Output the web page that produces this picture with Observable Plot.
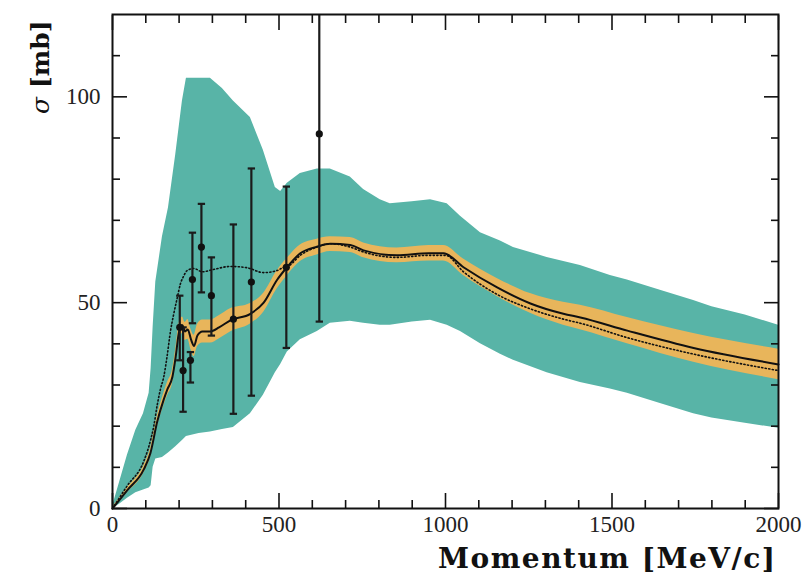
<!DOCTYPE html>
<html>
<head>
<meta charset="utf-8">
<script src="https://cdn.jsdelivr.net/npm/d3@7"></script>
<script src="https://cdn.jsdelivr.net/npm/@observablehq/plot@0.6"></script>
<style>
  html, body { margin: 0; padding: 0; background: #fff; }
  #chart svg { display: block; }
</style>
</head>
<body>
<div id="chart"></div>
<script>
// ---- Data ----
const tealX  = [0, 20, 45, 70, 93, 110, 116, 122, 130, 150, 168, 190, 210, 222, 260, 294, 330, 363, 414, 453, 489, 505, 525, 564, 615, 654, 714, 754, 804, 834, 900, 955, 1005, 1045, 1105, 1165, 1204, 1305, 1405, 1495, 1546, 1645, 1745, 1800, 1900, 2000];
const tealHi = [0.5, 6, 13, 19, 23, 28, 34, 44, 55, 66, 73, 86, 99, 104.5, 104.5, 104.5, 102, 99, 95, 87, 78, 77, 79, 81.4, 82.5, 82.5, 80.5, 77.5, 75, 74, 74.5, 75, 74, 71, 67, 65, 63.4, 61, 59, 56.6, 55.5, 53, 50.5, 49, 47, 44.5];
const tealLo = [0, 1, 2.5, 3.8, 4.5, 5, 5.5, 10, 12, 12.4, 13.5, 15, 16.5, 17.5, 18.2, 18.6, 19.2, 19.7, 23, 27.5, 33, 35, 38, 41, 43, 45, 45.5, 45, 44.5, 44.5, 45.3, 45.7, 44.5, 43, 40, 37.5, 36, 33, 30.6, 29, 28, 25.5, 23, 22, 20.7, 19.5];

const lineX  = [0, 44, 94, 114, 134, 154, 165, 180, 190, 200, 210, 218, 226, 236, 245, 255, 270, 294, 320, 354, 414, 454, 494, 524, 564, 614, 654, 714, 754, 854, 950, 994, 1054, 1155, 1255, 1354, 1405, 1546, 1745, 2000];
const solid  = [0, 4.4, 9.5, 13.5, 21, 26.5, 29, 32, 37, 43, 44.5, 43, 43.5, 41, 39.5, 42, 43, 43, 44, 45.7, 47.3, 50, 55.5, 58.6, 62, 63.6, 64.3, 64, 62.7, 61.5, 62, 62, 58.6, 53.7, 49.8, 47.3, 46.4, 43.2, 39, 35];
const bandLo = [0, 3.8, 8.6, 12.4, 19.7, 25, 27.4, 30.3, 35.2, 41, 42.5, 40.8, 41.1, 38.5, 36.9, 39.3, 40.2, 40.2, 41.2, 42.9, 44.8, 47.7, 53.3, 56.5, 60, 61.6, 62.4, 62.2, 60.9, 59.7, 60.1, 60.1, 56.6, 51.5, 47.4, 44.5, 43.4, 40, 35.5, 31.3];
const bandHi = [0.3, 5, 10.4, 14.6, 22.3, 28, 30.6, 33.7, 38.8, 45, 46.5, 45.2, 45.9, 43.5, 42.1, 44.7, 45.8, 45.8, 46.8, 48.5, 49.8, 52.3, 57.7, 60.7, 64, 65.4, 66, 65.8, 64.5, 63.3, 63.9, 63.9, 60.6, 55.9, 52.2, 50.1, 49.4, 46.4, 42.5, 38.7];

const dotX   = [0, 44, 94, 114, 124, 134, 144, 154, 164, 174, 184, 194, 204, 214, 224, 244, 270, 300, 354, 403, 454, 494, 514, 530, 564, 614, 654, 714, 754, 854, 950, 1000, 1054, 1155, 1255, 1354, 1405, 1546, 1745, 2000];
const dotted = [0, 5.5, 11.5, 16.5, 20, 25, 29, 32, 37, 43, 47.3, 51, 54.6, 56.5, 57.8, 58.3, 57.5, 58, 58.8, 58.5, 57.3, 57.8, 58.6, 59, 61.5, 63.5, 64.3, 63.5, 62.3, 61, 61.5, 61.5, 57.5, 52, 48.5, 46, 45, 41.5, 37.5, 33.5];

const ptX  = [202, 212, 234, 240, 267, 297, 363, 417, 522, 621];
const ptY  = [44, 33.5, 36, 55.6, 63.5, 51.7, 46, 55, 58.6, 91];
const ptLo = [36, 23.5, 30.6, 45, 52.5, 42, 23, 27.4, 39, 45.4];
const ptHi = [51.7, 44, 38, 67, 74, 61, 69, 82.6, 78.2, 136];

const xMajor = [0, 500, 1000, 1500, 2000];
const xMinor = [100, 200, 300, 400, 600, 700, 800, 900, 1100, 1200, 1300, 1400, 1600, 1700, 1800, 1900];
const yMajor = [0, 50, 100];
const yMinor = [10, 20, 30, 40, 60, 70, 80, 90, 110];

const xTitle = "Momentum [MeV/c]";
const yTitle = "σ [mb]";

// ---- Tables built from the arrays ----
const teal = tealX.map((x, i) => ({x, lo: tealLo[i], hi: tealHi[i]}));
const central = lineX.map((x, i) => ({x, y: solid[i], lo: bandLo[i], hi: bandHi[i]}));
const alt = dotX.map((x, i) => ({x, y: dotted[i]}));
const pts = ptX.map((x, i) => ({x, y: ptY[i], lo: ptLo[i], hi: ptHi[i]}));

const TEAL = "#58b4a7";
const ORANGE = "#e8b55b";
const serif = "'Liberation Serif', 'DejaVu Serif', serif";
const boldSerif = "'DejaVu Serif', 'Liberation Serif', serif";

const tickOpts = {fill: "none", label: null, strokeWidth: 1.6, stroke: "#111"};

const chart = Plot.plot({
  width: 802,
  height: 579,
  marginLeft: 112,
  marginRight: 24,
  marginTop: 14,
  marginBottom: 71,
  style: {fontFamily: serif, background: "#fff", color: "#111"},
  x: {domain: [0, 2000]},
  y: {domain: [0, 120]},
  marks: [
    Plot.areaY(teal, {x: "x", y1: "lo", y2: "hi", fill: TEAL, curve: "linear"}),
    Plot.areaY(central, {x: "x", y1: "lo", y2: "hi", fill: ORANGE, curve: "monotone-x"}),
    Plot.line(alt, {x: "x", y: "y", stroke: "#111", strokeWidth: 1.6, strokeDasharray: "1.2,2.4", curve: "monotone-x"}),
    Plot.line(central, {x: "x", y: "y", stroke: "#111", strokeWidth: 2, curve: "monotone-x"}),
    Plot.ruleX(pts, {x: "x", y1: "lo", y2: "hi", stroke: "#1b1b1b", strokeWidth: 2.2, clip: true}),
    Plot.link(pts, {x1: d => d.x - 11, x2: d => d.x + 11, y1: "hi", y2: "hi", stroke: "#1b1b1b", strokeWidth: 2.2, clip: true}),
    Plot.link(pts, {x1: d => d.x - 11, x2: d => d.x + 11, y1: "lo", y2: "lo", stroke: "#1b1b1b", strokeWidth: 2.2}),
    Plot.dot(pts, {x: "x", y: "y", r: 3.6, fill: "#111", stroke: null}),
    Plot.frame({stroke: "#111", strokeWidth: 2}),
    // inward ticks on all four sides
    Plot.axisX({anchor: "bottom", ticks: xMajor, tickSize: -15, ...tickOpts}),
    Plot.axisX({anchor: "bottom", ticks: xMinor, tickSize: -8, ...tickOpts}),
    Plot.axisX({anchor: "top", ticks: xMajor, tickSize: -15, ...tickOpts}),
    Plot.axisX({anchor: "top", ticks: xMinor, tickSize: -8, ...tickOpts}),
    Plot.axisY({anchor: "left", ticks: yMajor, tickSize: -15, ...tickOpts}),
    Plot.axisY({anchor: "left", ticks: yMinor, tickSize: -8, ...tickOpts}),
    Plot.axisY({anchor: "right", ticks: yMajor, tickSize: -15, ...tickOpts}),
    Plot.axisY({anchor: "right", ticks: yMinor, tickSize: -8, ...tickOpts}),
    // tick labels
    Plot.axisX({anchor: "bottom", ticks: xMajor, tickSize: 0, tickPadding: 7, tickFormat: d => String(d), fontSize: 23, label: null, fill: "#222"}),
    Plot.axisY({anchor: "left", ticks: yMajor, tickSize: 0, tickPadding: 12, tickFormat: d => String(d), fontSize: 23, label: null, fill: "#222"}),
    // axis titles
    Plot.text([xTitle], {text: d => d, frameAnchor: "bottom-right", textAnchor: "end", lineAnchor: "middle", dx: -2, dy: 51, fontSize: 28, fontWeight: "bold", fontFamily: boldSerif, fill: "#111"}),
    Plot.text([yTitle], {text: d => d, frameAnchor: "top-left", textAnchor: "end", lineAnchor: "middle", rotate: -90, dx: -72, dy: 6, fontSize: 25, fontWeight: "bold", fontFamily: boldSerif, fill: "#111"})
  ]
});

document.getElementById("chart").appendChild(chart);

for (const t of chart.querySelectorAll("text")) {
  if (t.textContent === xTitle) {
    t.setAttribute("letter-spacing", "1.5");
  }
  if (t.textContent === yTitle) {
    // Italic sigma inside the y title
    t.textContent = "";
    const ns = "http://www.w3.org/2000/svg";
    const s = document.createElementNS(ns, "tspan");
    s.setAttribute("font-style", "italic");
    s.setAttribute("font-weight", "normal");
    s.textContent = "σ";
    const r = document.createElementNS(ns, "tspan");
    r.textContent = " [mb]";
    t.appendChild(s);
    t.appendChild(r);
  }
}
</script>
</body>
</html>
